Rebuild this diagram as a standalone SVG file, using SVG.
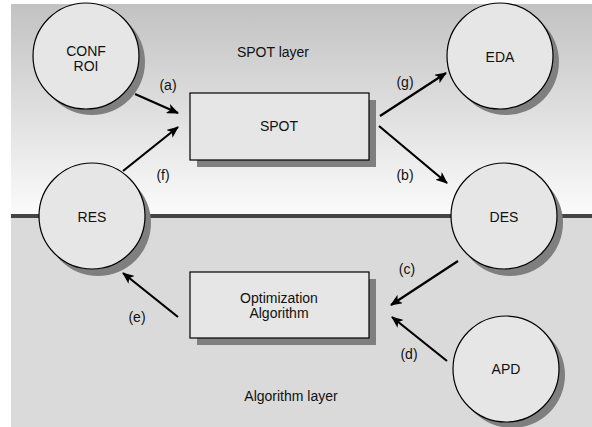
<svg xmlns="http://www.w3.org/2000/svg" width="592" height="427" viewBox="0 0 592 427">
<defs>
<linearGradient id="gTop" x1="0" y1="0" x2="0" y2="1">
<stop offset="0" stop-color="#c2c2c2"/>
<stop offset="1" stop-color="#fbfbfb"/>
</linearGradient>
<marker id="ah" markerWidth="12" markerHeight="10" refX="11" refY="5" orient="auto" markerUnits="userSpaceOnUse">
<path d="M0,0 L12,5 L0,10 L3,5 Z" fill="#000"/>
</marker>
<style>
text{font-family:"Liberation Sans",Arial,sans-serif;font-size:14px;fill:#111;text-anchor:middle}
.c{fill:#e6e6e6;stroke:#000;stroke-width:1.2}
.sh{fill:#7f7f7f}
.r{fill:#e6e6e6;stroke:#000;stroke-width:1.2}
.a{stroke:#000;stroke-width:2.2;fill:none;marker-end:url(#ah)}
</style>
</defs>
<g id="background">
<rect x="11" y="4" width="581" height="211" fill="url(#gTop)"/>
<rect x="11" y="216" width="581" height="211" fill="#dadada"/>
<rect x="11" y="214" width="581" height="4" fill="#454545"/>
<text x="273" y="57">SPOT layer</text>
<text x="291" y="401">Algorithm layer</text>
</g>
<g id="connectors">
<line class="a" x1="135" y1="94" x2="178" y2="113"/>
<line class="a" x1="123" y1="171" x2="178" y2="127"/>
<line class="a" x1="380" y1="116" x2="446" y2="73"/>
<line class="a" x1="379" y1="126" x2="447" y2="183"/>
<line class="a" x1="458" y1="261" x2="391" y2="305"/>
<line class="a" x1="447" y1="361" x2="392" y2="317"/>
<line class="a" x1="178" y1="317" x2="123" y2="273"/>
<text x="168" y="90">(a)</text>
<text x="163" y="180">(f)</text>
<text x="405" y="87">(g)</text>
<text x="405" y="180">(b)</text>
<text x="407" y="274">(c)</text>
<text x="409" y="359">(d)</text>
<text x="137" y="322">(e)</text>
</g>
<g id="conf">
<circle class="sh" cx="92" cy="62" r="53"/>
<circle class="c" cx="86" cy="56" r="53"/>
<text x="86" y="56">CONF</text>
<text x="86" y="71">ROI</text>
</g>
<g id="eda">
<circle class="sh" cx="506" cy="62" r="53"/>
<circle class="c" cx="500" cy="56" r="53"/>
<text x="500" y="62">EDA</text>
</g>
<g id="spot">
<rect class="sh" x="197" y="100" width="179" height="67"/>
<rect class="r" x="190" y="93" width="179" height="67"/>
<text x="279" y="131">SPOT</text>
</g>
<g id="res">
<circle class="sh" cx="98" cy="223" r="53"/>
<circle class="c" cx="92" cy="216" r="53"/>
<text x="92" y="222">RES</text>
</g>
<g id="des">
<circle class="sh" cx="510" cy="223" r="53"/>
<circle class="c" cx="504" cy="216" r="53"/>
<text x="504" y="222">DES</text>
</g>
<g id="opt">
<rect class="sh" x="197" y="279" width="179" height="66"/>
<rect class="r" x="190" y="272" width="179" height="66"/>
<text x="279" y="303">Optimization</text>
<text x="279" y="318">Algorithm</text>
</g>
<g id="apd">
<circle class="sh" cx="512" cy="375" r="53"/>
<circle class="c" cx="506" cy="369" r="53"/>
<text x="506" y="374">APD</text>
</g>
</svg>
